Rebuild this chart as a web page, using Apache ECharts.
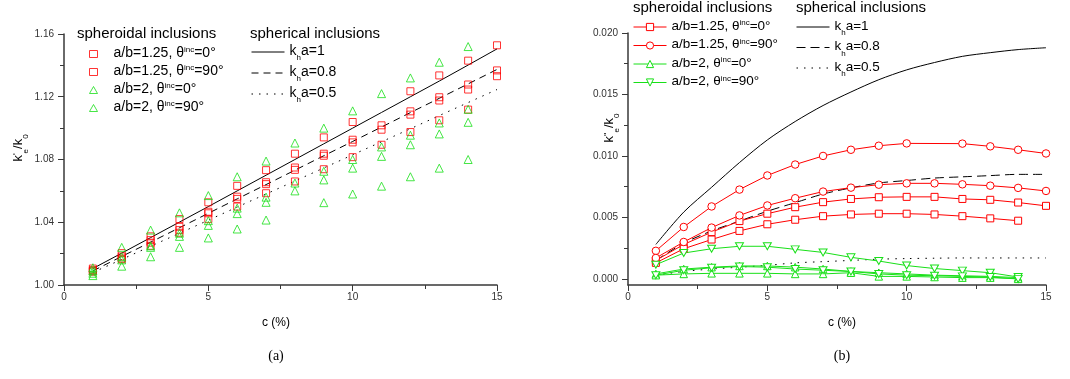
<!DOCTYPE html>
<html><head><meta charset="utf-8">
<script src="https://cdn.jsdelivr.net/npm/echarts@6/dist/echarts.min.js"></script>
<style>html,body{margin:0;padding:0;background:#fff}#c{width:1070px;height:379px}</style>
</head><body><div id="c"></div>
<script>
// ---------- data ----------
const cPct = [1,2,3,4,5,6,7,8,9,10,11,12,13,14,15];
const xTicks = [0,5,10,15];
const yTicksA = [1.00,1.04,1.08,1.12,1.16];
const yTicksB = [0,0.005,0.010,0.015,0.020];
const yMinorB = [0.0025,0.0075,0.0125,0.0175];

// panel (a): k'e/k0
const a_sq0_1  = [1.0090,1.0169,1.0270,1.0350,1.0457,1.0549,1.0643,1.0734,1.0824,1.0909,1.0990,1.1086,1.1176,1.1246,1.1331];
const a_sq0_2  = [1.0085,1.0164,1.0250,1.0333,1.0420,1.0500,1.0585,1.0660,1.0738,1.0815,1.0894,1.0975,1.1050,1.1118,null];
const a_sq90_1 = [1.0105,1.0203,1.0310,1.0420,1.0527,1.0632,1.0732,1.0837,1.0941,1.1039,null,1.1235,1.1336,1.1430,1.1528];
const a_sq90_2 = [1.0095,1.0182,1.0286,1.0371,1.0467,1.0563,1.0655,1.0749,1.0837,1.0926,1.1018,1.1107,1.1197,1.1278,1.1368];
const a_tri0_1  = [1.0110,1.0240,1.0350,1.0460,1.0570,1.0690,1.0790,1.0905,1.1000,1.1110,1.1220,1.1320,1.1420,1.1520];
const a_tri0_2  = [1.0090,1.0180,1.0250,1.0330,1.0410,1.0490,1.0560,1.0650,1.0725,1.0800,1.0880,1.0955,1.1033,1.1120];
const a_tri90_1 = [1.0075,1.0160,1.0240,1.0310,1.0380,1.0455,1.0527,1.0600,1.0670,1.0745,1.0820,1.0894,1.0963,1.1037];
const a_tri90_2 = [1.0060,1.0120,1.0180,1.0240,1.0300,1.0357,1.0414,null,1.0525,1.0580,1.0630,1.0690,1.0745,1.0800];
const a_kh10 = [1.0105,1.0203,1.0302,1.0401,1.0500,1.0600,1.0700,1.0800,1.0900,1.1000,1.1100,1.1200,1.1300,1.1402,1.1505];
const a_kh08 = [1.0090,1.0182,1.0273,1.0365,1.0457,1.0549,1.0640,1.0732,1.0824,1.0915,1.1007,1.1099,1.1190,1.1282,1.1374];
const a_kh05 = [1.0080,1.0163,1.0247,1.0330,1.0413,1.0497,1.0580,1.0663,1.0746,1.0830,1.0913,1.0996,1.1080,1.1163,1.1246];

// panel (b): k''e/k0
const b_sq0_1   = [0.0015,0.0028,0.0038,0.0047,0.0053,0.00583,0.00624,0.0065,0.00664,0.00667,0.00667,0.0065,0.00643,0.00621,0.00594];
const b_sq0_2   = [0.0013,0.00245,0.0032,0.0039,0.00444,0.00481,0.0051,0.00524,0.0053,0.0053,0.00524,0.0051,0.00492,0.00473,null];
const b_circ90_1= [0.00228,0.00422,0.00589,0.00726,0.00841,0.0093,0.0100,0.0105,0.01083,0.01102,null,0.0110,0.01078,0.0105,0.0102];
const b_circ90_2= [0.0017,0.0030,0.00417,0.00516,0.00597,0.00656,0.0071,0.00742,0.00766,0.00777,0.00777,0.00769,0.00758,0.0074,0.00715];
const b_tri0_1  = [0.0004,0.0008,0.00095,0.00105,0.00105,0.00095,0.0008,0.0006,0.0005,0.0004,0.0003,0.00025,0.0002,0.0001];
const b_tri0_2  = [0.0003,0.0004,0.00045,0.00045,0.00045,0.0004,0.0004,0.0005,0.0002,0.0002,0.00015,0.0001,0.0001,0.0];
const b_tri90_1 = [0.00115,0.0021,0.00245,0.00265,0.00265,0.0024,0.00215,0.00175,0.00145,0.00108,0.00084,0.00067,0.0005,0.00015];
const b_tri90_2 = [0.0003,0.0007,0.0009,0.0010,0.00095,0.0008,0.0007,0.0006,0.0004,0.0003,0.00025,0.0002,0.00015,0.0];
const b_kh10 = [0.0028,0.00543,0.00745,0.00946,0.0113,0.0128,0.0141,0.0152,0.0162,0.0170,0.0176,0.0181,0.0184,0.01865,0.0188];
const b_kh08 = [0.0015,0.0029,0.0039,0.0047,0.0055,0.0062,0.0069,0.0074,0.0078,0.0080,0.0082,0.0083,0.0084,0.0085,0.0085];
const b_kh05 = [0.0003,0.0006,0.0008,0.00095,0.0011,0.0013,0.0014,0.0015,0.0016,0.00165,0.00168,0.0017,0.0017,0.0017,0.0017];

const spheroidNames = ['a/b=1.25, θ^inc=0°','a/b=1.25, θ^inc=90°','a/b=2, θ^inc=0°','a/b=2, θ^inc=90°'];
const sphereNames = ['k_ha=1','k_ha=0.8','k_ha=0.5'];

// ---------- helpers ----------
const RED='#ff0000', GREEN='#18e018', BLACK='#000', AX='#383838';
const FF='"Liberation Sans", Arial, sans-serif';
function pts(ys, keepNull){
  const out=[];
  for(let i=0;i<ys.length;i++){
    if(ys[i]==null){ if(keepNull) out.push([cPct[i],'-']); }
    else out.push([cPct[i], ys[i]]);
  }
  return out;
}
function rich(s){
  return s.split(/(\^[a-z]+|_[a-z])/).filter(t=>t.length).map(t=>{
    if(t[0]==='^') return '{sup|'+t.slice(1)+'}';
    if(t[0]==='_') return '{sub|'+t.slice(1)+'}';
    return '{n|'+t+'}';
  }).join('');
}
function richStyles(fs, padW){
  return {
    pad:{fontSize:1,lineHeight:16,width:padW||0,verticalAlign:'top'},
    n:{fontSize:fs,lineHeight:16,verticalAlign:'top',color:'#000',fontFamily:FF},
    sup:{fontSize:8,lineHeight:8,verticalAlign:'top',color:'#000',fontFamily:FF},
    sub:{fontSize:8,lineHeight:8,verticalAlign:'top',padding:[10,0,0,0],color:'#000',fontFamily:FF}
  };
}
const DOWN_TRI='path://M0,0L10,0L5,8.66Z';

const series=[];
function scatA(name, ys, sym, color){
  series.push({type:'scatter',name:'A:'+name,xAxisIndex:0,yAxisIndex:0,symbol:sym,symbolSize:sym==='rect'?7:8,clip:false,
    itemStyle:{color:'rgba(255,255,255,0)',borderColor:color,borderWidth:1},data:pts(ys,false),z:3});
}
scatA(spheroidNames[0], a_sq0_1,'rect',RED);
scatA(spheroidNames[0], a_sq0_2,'rect',RED);
scatA(spheroidNames[1], a_sq90_1,'rect',RED);
scatA(spheroidNames[1], a_sq90_2,'rect',RED);
scatA(spheroidNames[2], a_tri0_1,'triangle',GREEN);
scatA(spheroidNames[2], a_tri0_2,'triangle',GREEN);
scatA(spheroidNames[3], a_tri90_1,'triangle',GREEN);
scatA(spheroidNames[3], a_tri90_2,'triangle',GREEN);

function lineK(prefix, name, ys, type, xi){
  series.push({type:'line',name:prefix+name,xAxisIndex:xi,yAxisIndex:xi,symbol:'none',smooth:xi===1?0.3:false,clip:false,
    lineStyle:{color:BLACK,width:1,type:type},itemStyle:{color:BLACK},data:pts(ys,true),z:2});
}
lineK('A:',sphereNames[0],a_kh10,'solid',0);
lineK('A:',sphereNames[1],a_kh08,[7,5],0);
lineK('A:',sphereNames[2],a_kh05,[1.5,6],0);
lineK('B:',sphereNames[0],b_kh10,'solid',1);
lineK('B:',sphereNames[1],b_kh08,[9,5],1);
lineK('B:',sphereNames[2],b_kh05,[1.5,6],1);

function lineB(name, ys, sym, color){
  series.push({type:'line',name:'B:'+name,xAxisIndex:1,yAxisIndex:1,symbol:sym,symbolSize:sym===DOWN_TRI?[8,7]:(sym==='rect'?7:7.5),
    showSymbol:true,showAllSymbol:true,connectNulls:true,clip:false,
    lineStyle:{color:color,width:1},itemStyle:{color:'#fff',borderColor:color,borderWidth:1},data:pts(ys,true),z:4});
}
lineB(spheroidNames[0], b_sq0_1,'rect',RED);
lineB(spheroidNames[0], b_sq0_2,'rect',RED);
lineB(spheroidNames[1], b_circ90_1,'circle',RED);
lineB(spheroidNames[1], b_circ90_2,'circle',RED);
lineB(spheroidNames[2], b_tri0_1,'triangle',GREEN);
lineB(spheroidNames[2], b_tri0_2,'triangle',GREEN);
lineB(spheroidNames[3], b_tri90_1,DOWN_TRI,GREEN);
lineB(spheroidNames[3], b_tri90_2,DOWN_TRI,GREEN);

function xAx(gi){
  return {gridIndex:gi,type:'value',min:0,max:15,interval:5,
    axisLine:{show:true,onZero:false,lineStyle:{color:AX,width:1.5}},
    axisTick:{show:true,length:6,lineStyle:{color:AX,width:1}},
    minorTick:{show:true,splitNumber:2,length:4,lineStyle:{color:AX,width:1}},
    axisLabel:{fontSize:10,color:'#333',margin:7,fontFamily:FF},
    splitLine:{show:false},minorSplitLine:{show:false}};
}
const yAxes=[
  {gridIndex:0,type:'value',min:yTicksA[0],max:yTicksA[yTicksA.length-1],interval:0.04,
    axisLine:{show:true,onZero:false,lineStyle:{color:AX,width:1.5}},
    axisTick:{show:true,length:6,lineStyle:{color:AX,width:1}},
    minorTick:{show:true,splitNumber:2,length:4,lineStyle:{color:AX,width:1}},
    axisLabel:{fontSize:10,color:'#333',margin:10,fontFamily:FF,formatter:v=>v.toFixed(2)},
    splitLine:{show:false}},
  {gridIndex:1,type:'value',min:-0.0005,max:0.02,
    axisLine:{show:true,onZero:false,lineStyle:{color:AX,width:1.5}},
    axisTick:{show:true,length:6,customValues:yTicksB,lineStyle:{color:AX,width:1}},
    axisLabel:{fontSize:10,color:'#333',margin:10,fontFamily:FF,customValues:yTicksB,formatter:v=>v.toFixed(3)},
    splitLine:{show:false}},
  {gridIndex:1,type:'value',min:-0.0005,max:0.02,position:'left',
    axisLine:{show:false},
    axisTick:{show:true,length:4,customValues:yMinorB,lineStyle:{color:AX,width:1}},
    axisLabel:{show:false},splitLine:{show:false}}
];

function legend(prefix, names, left, top, opts){
  const fs=opts.fs||14, padW=opts.padW||0;
  const o=Object.assign({
    orient:'vertical',left:left,top:top,selectedMode:false,padding:0,
    data:names.map(n=>({name:prefix+n})),
    formatter:n=>(padW?'{pad| }':'')+rich(n.slice(2)),
    textStyle:{fontSize:fs,color:'#000',fontFamily:FF,rich:richStyles(fs,padW)},
    itemStyle:{borderWidth:1},lineStyle:{width:1}
  },opts);
  delete o.fs; delete o.padW;
  return o;
}
const legends=[
  legend('A:',spheroidNames,89,46,{itemWidth:8,itemHeight:7,itemGap:4,fs:14,padW:11}),
  legend('A:',sphereNames,251,44,{itemWidth:33,itemHeight:8,itemGap:3,fs:14}),
  legend('B:',spheroidNames,633,19,{itemWidth:33,itemHeight:9,itemGap:4.5,fs:13.5}),
  legend('B:',sphereNames,796,19,{itemWidth:33,itemHeight:8,itemGap:2.5,fs:13.5})
];
legends[1].data.forEach(d=>d.itemStyle={opacity:0});
legends[3].data.forEach(d=>d.itemStyle={opacity:0});

function txt(x,y,text,font){
  return {type:'text',x:x,y:y,silent:true,style:{text:text,font:font,fill:'#000',align:'left',verticalAlign:'middle'}};
}
const nameRich={
  n:{fontSize:13,lineHeight:16,verticalAlign:'top',fontFamily:FF,color:'#000'},
  sup:{fontSize:9,lineHeight:9,verticalAlign:'top',fontFamily:FF,color:'#000'},
  sub:{fontSize:8,lineHeight:8,verticalAlign:'top',padding:[10,0,0,0],fontFamily:FF,color:'#000'}
};
const graphics=[
  txt(77,34,'spheroidal inclusions','15px '+FF),
  txt(250,34,'spherical inclusions','15px '+FF),
  txt(633,8,'spheroidal inclusions','15px '+FF),
  txt(796,8,'spherical inclusions','15px '+FF),
  {type:'text',x:276,y:323,silent:true,style:{text:'c (%)',font:'12px '+FF,fill:'#000',align:'center',verticalAlign:'middle'}},
  {type:'text',x:842,y:323,silent:true,style:{text:'c (%)',font:'12px '+FF,fill:'#000',align:'center',verticalAlign:'middle'}},
  {type:'text',x:276,y:356,silent:true,style:{text:'(a)',font:'14px "Liberation Serif", serif',fill:'#000',align:'center',verticalAlign:'middle'}},
  {type:'text',x:842,y:356,silent:true,style:{text:'(b)',font:'14px "Liberation Serif", serif',fill:'#000',align:'center',verticalAlign:'middle'}},
  {type:'text',x:20,y:148,rotation:Math.PI/2,silent:true,style:{text:"{n|k}{sup|'}{sub|e}{n|/k}{sub|0}",rich:nameRich,align:'center',verticalAlign:'middle'}},
  {type:'text',x:611,y:128,rotation:Math.PI/2,silent:true,style:{text:"{n|k}{sup|''}{sub|e}{n|/k}{sub|0}",rich:nameRich,align:'center',verticalAlign:'middle'}}
];

const chart=echarts.init(document.getElementById('c'),null,{renderer:'canvas'});
chart.setOption({
  animation:false,
  backgroundColor:'#fff',
  grid:[{left:64,top:34,width:433,height:251},{left:628,top:33,width:418,height:252}],
  xAxis:[xAx(0),xAx(1)],
  yAxis:yAxes,
  legend:legends,
  graphic:graphics,
  series:series
});
</script>
</body></html>
